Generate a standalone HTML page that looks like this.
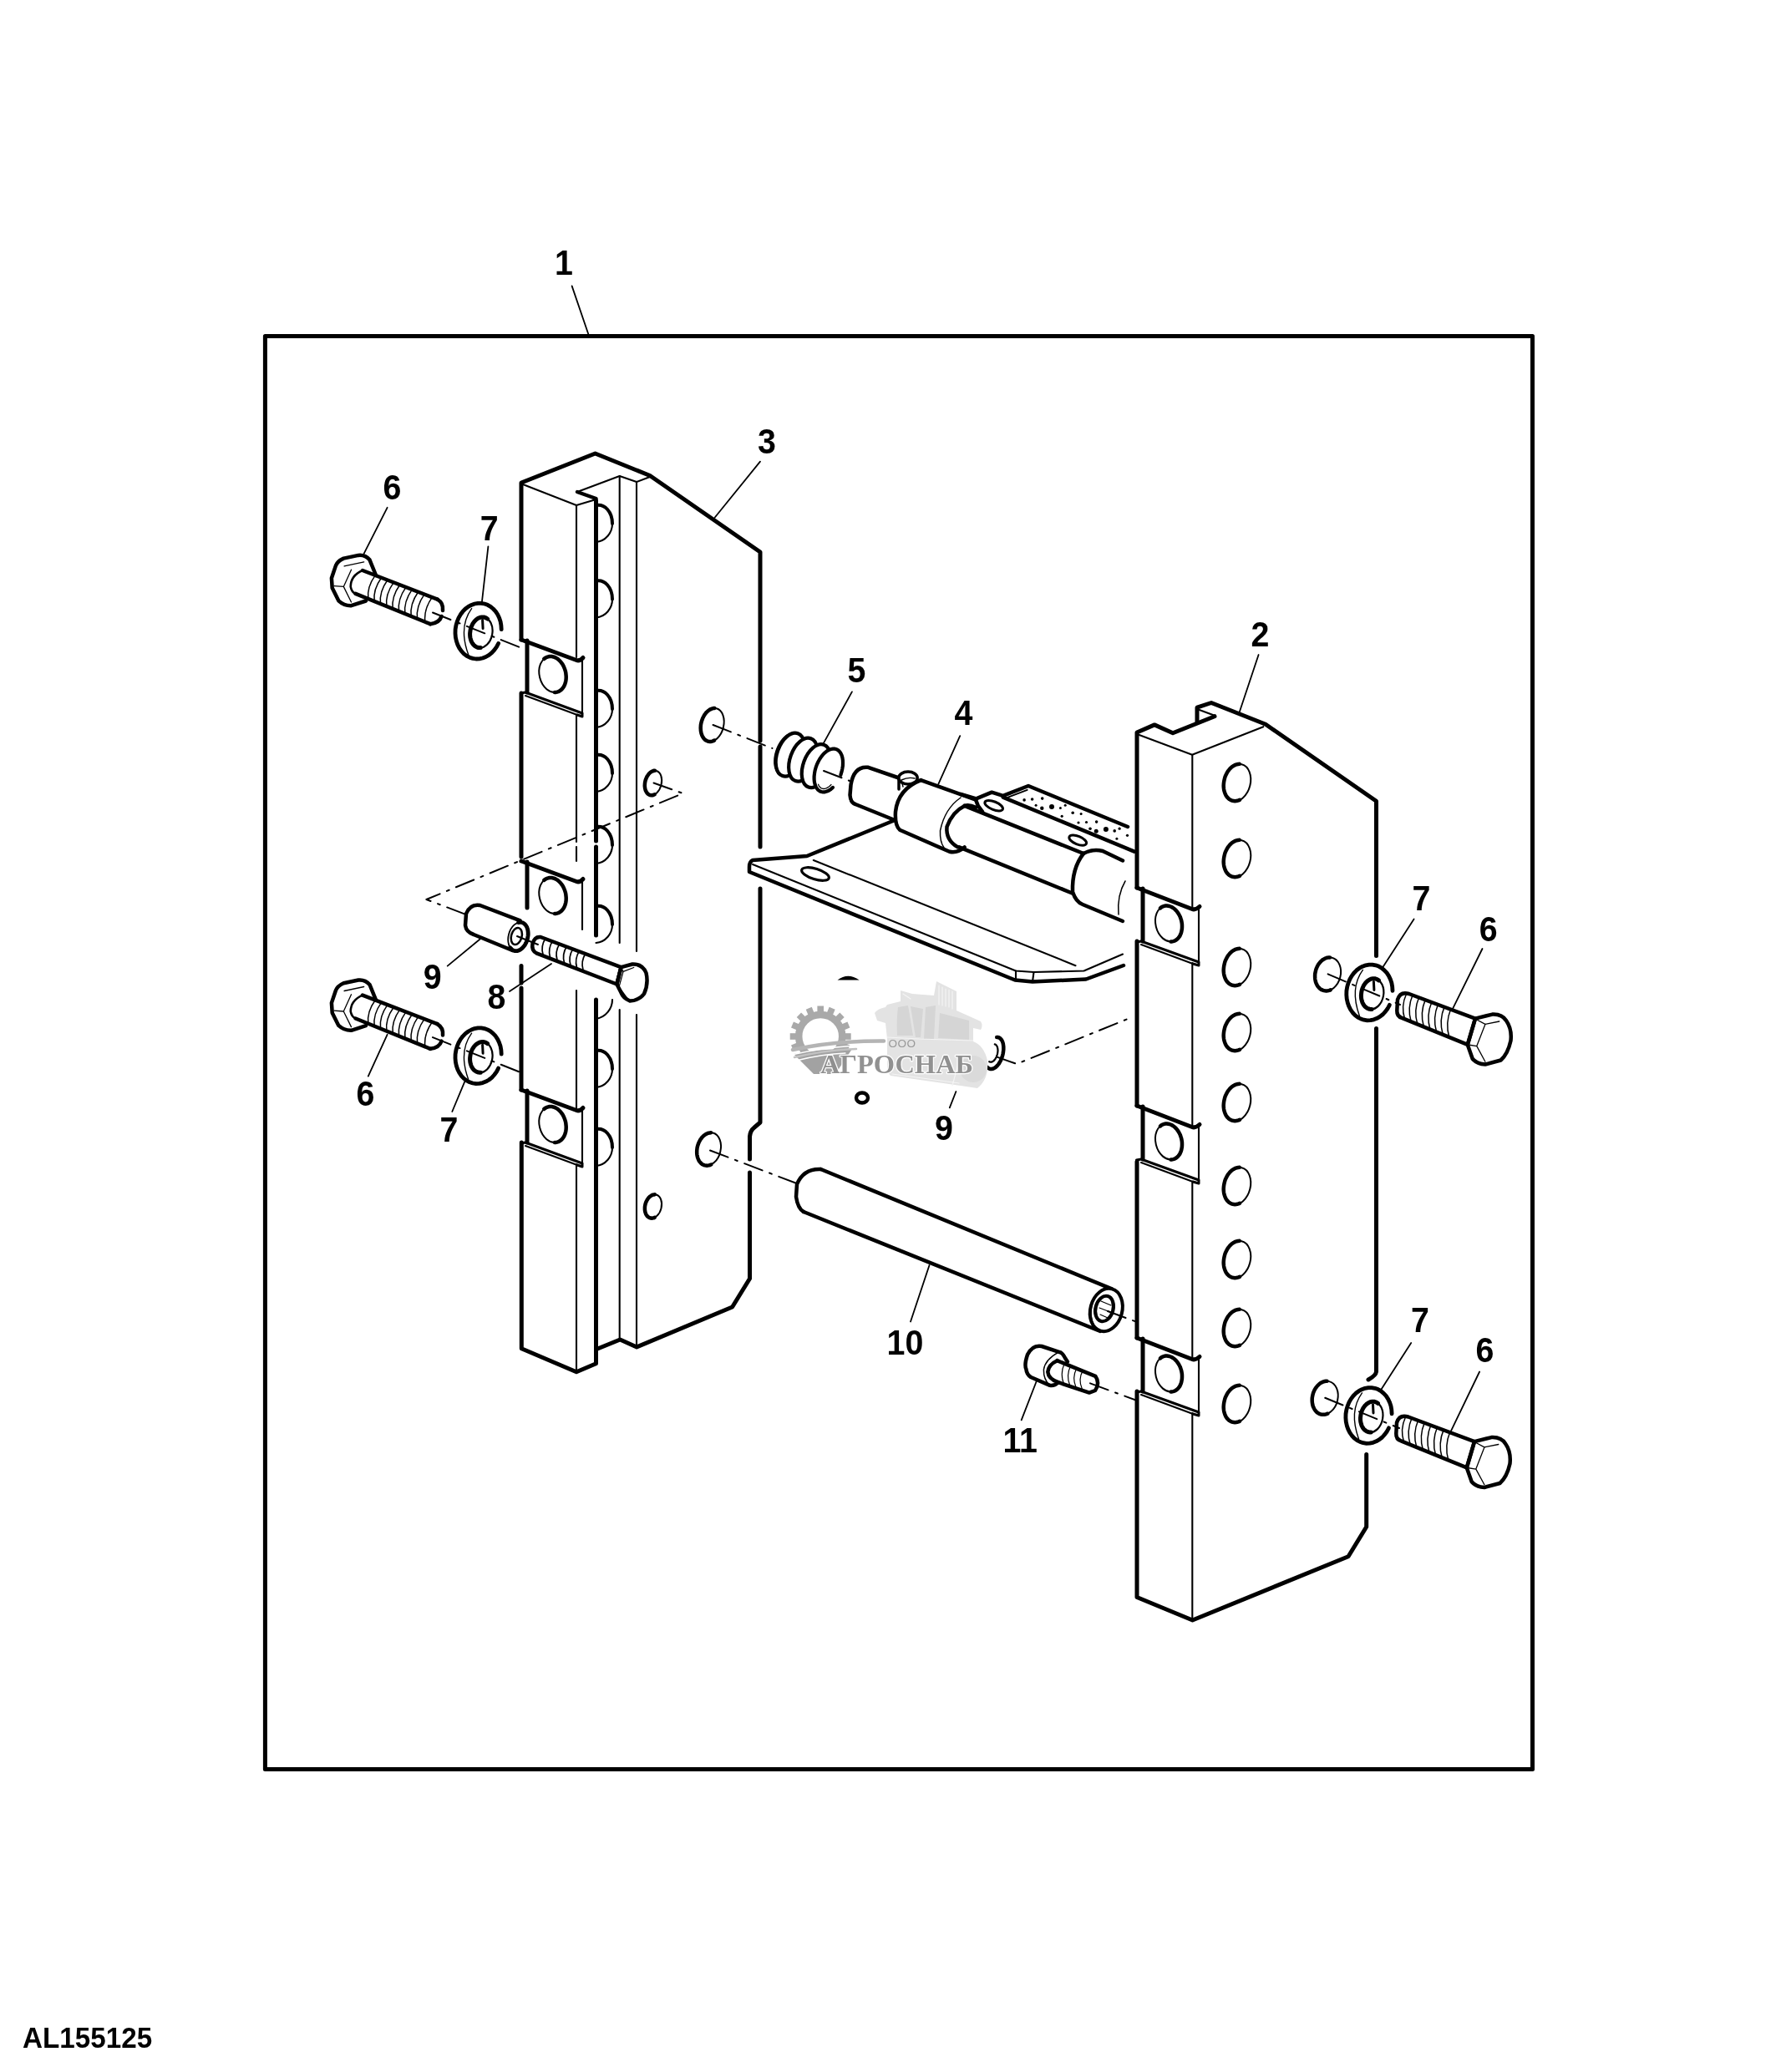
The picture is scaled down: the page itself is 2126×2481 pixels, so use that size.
<!DOCTYPE html><html><head><meta charset="utf-8"><style>html,body{margin:0;padding:0;background:#fff;}svg{display:block;}</style></head><body><svg width="2126" height="2481" viewBox="0 0 2126 2481" fill="none" stroke="#000" stroke-linecap="round" stroke-linejoin="round"><rect x="317.4" y="402.5" width="1517.1" height="1715.9" stroke-width="5"/>
<polyline points="624,766 624,578 712.5,543 778,569.5 910,661 910,887" stroke-width="5" />
<polyline points="910,894 910,1014" stroke-width="5" />
<path d="M910,1064 L910,1344 L903,1350 Q898,1354 897.5,1361 L897.5,1388 M897.5,1404 L897.5,1531 L876.6,1565 L762.2,1613 L742.3,1604 L713.5,1615.7 L713.5,1632.8 L690,1642.7 L624.3,1614.8 L624.3,1368" stroke-width="5" />
<polyline points="626,580 690,605" stroke-width="2.1" />
<polyline points="690,605 713.5,598" stroke-width="2.1" />
<polyline points="691,589 713.5,597 713.5,604" stroke-width="4.5" />
<polyline points="691,589 741.7,570 762,577 778,571" stroke-width="2.1" />
<polyline points="713.5,600 713.5,1007" stroke-width="5" />
<polyline points="713.5,1014 713.5,1120" stroke-width="5" />
<polyline points="713.5,1197 713.5,1615" stroke-width="5" />
<polyline points="741.7,570 741.7,1129" stroke-width="2.1" />
<polyline points="741.7,1209 741.7,1604" stroke-width="2.1" />
<polyline points="762,577 762,1139" stroke-width="2.1" />
<polyline points="762,1215 762,1613" stroke-width="2.1" />
<polyline points="690,605 690,787" stroke-width="2.1" />
<polyline points="690,856 690,1008" stroke-width="2.1" />
<polyline points="690,1014 690,1031" stroke-width="2.1" />
<polyline points="690,1186 690,1329" stroke-width="2.1" />
<polyline points="690,1394 690,1642.7" stroke-width="2.1" />
<polyline points="624,830 624,1026" stroke-width="5" />
<polyline points="624,1156.5 624,1177" stroke-width="5" />
<polyline points="624,1183 624,1305" stroke-width="5" />
<path d="M624,766 L690,790.5 Q694,792 698,787.5" stroke-width="5" />
<ellipse cx="661.5" cy="807.5" rx="15.8" ry="21.8" stroke-width="2" transform="rotate(-14 661.5 807.5)" />
<polyline points="651.3,788.9 652.5,788 653.8,787.3 655.1,786.7 656.5,786.3 657.9,786.1 659.4,786 660.9,786.1 662.4,786.5 663.8,786.9 665.3,787.6 666.7,788.4 668.1,789.4 669.4,790.6 670.7,791.8 671.9,793.3 673,794.8 674,796.4 674.9,798.2 675.6,800 676.3,801.8 676.9,803.8 677.3,805.7 677.5,807.7 677.7,809.7 677.7,811.6 677.6,813.5 677.3,815.4 676.9,817.2 676.4,818.9 675.7,820.5 675,822 674.1,823.4 673.1,824.7 672,825.8 670.9,826.7 669.6,827.5 668.3,828.2 666.9,828.6 665.5,828.9 664,829" stroke-width="4.5" />
<polyline points="631,767 631,829" stroke-width="5" />
<polyline points="697,788 697,855" stroke-width="2.1" />
<polyline points="623.5,830 629,829 697,854 697,858 691,856" stroke-width="3" />
<polyline points="629,833 691,856" stroke-width="2.1" />
<path d="M624,1031 L690,1055.5 Q694,1057 698,1052.5" stroke-width="5" />
<ellipse cx="661.5" cy="1072.5" rx="15.8" ry="21.8" stroke-width="2" transform="rotate(-14 661.5 1072.5)" />
<polyline points="651.3,1053.9 652.5,1053 653.8,1052.3 655.1,1051.7 656.5,1051.3 657.9,1051.1 659.4,1051 660.9,1051.1 662.4,1051.5 663.8,1051.9 665.3,1052.6 666.7,1053.4 668.1,1054.4 669.4,1055.6 670.7,1056.8 671.9,1058.3 673,1059.8 674,1061.4 674.9,1063.2 675.6,1065 676.3,1066.8 676.9,1068.8 677.3,1070.7 677.5,1072.7 677.7,1074.7 677.7,1076.6 677.6,1078.5 677.3,1080.4 676.9,1082.2 676.4,1083.9 675.7,1085.5 675,1087 674.1,1088.4 673.1,1089.7 672,1090.8 670.9,1091.7 669.6,1092.5 668.3,1093.2 666.9,1093.6 665.5,1093.9 664,1094" stroke-width="4.5" />
<polyline points="631,1032 631,1087" stroke-width="5" />
<polyline points="697,1053 697,1113" stroke-width="2.1" />
<path d="M624,1305 L690,1329.5 Q694,1331 698,1326.5" stroke-width="5" />
<ellipse cx="661.5" cy="1346.5" rx="15.8" ry="21.8" stroke-width="2" transform="rotate(-14 661.5 1346.5)" />
<polyline points="651.3,1327.9 652.5,1327 653.8,1326.3 655.1,1325.7 656.5,1325.3 657.9,1325.1 659.4,1325 660.9,1325.1 662.4,1325.5 663.8,1325.9 665.3,1326.6 666.7,1327.4 668.1,1328.4 669.4,1329.6 670.7,1330.8 671.9,1332.3 673,1333.8 674,1335.4 674.9,1337.2 675.6,1339 676.3,1340.8 676.9,1342.8 677.3,1344.7 677.5,1346.7 677.7,1348.7 677.7,1350.6 677.6,1352.5 677.3,1354.4 676.9,1356.2 676.4,1357.9 675.7,1359.5 675,1361 674.1,1362.4 673.1,1363.7 672,1364.8 670.9,1365.7 669.6,1366.5 668.3,1367.2 666.9,1367.6 665.5,1367.9 664,1368" stroke-width="4.5" />
<polyline points="631,1306 631,1368" stroke-width="5" />
<polyline points="697,1327 697,1394" stroke-width="2.1" />
<polyline points="623.5,1369 629,1368 697,1393 697,1397 691,1395" stroke-width="3" />
<polyline points="629,1372 691,1395" stroke-width="2.1" />
<path d="M713.5,605 C724,603 733,613 733,627" stroke-width="4" />
<path d="M733,627 C733,638 725,648 713.5,649" stroke-width="2.1" />
<path d="M713.5,695.5 C724,693.5 733,703.5 733,717.5" stroke-width="4" />
<path d="M733,717.5 C733,728.5 725,738.5 713.5,739.5" stroke-width="2.1" />
<path d="M713.5,827 C724,825 733,835 733,849" stroke-width="4" />
<path d="M733,849 C733,860 725,870 713.5,871" stroke-width="2.1" />
<path d="M713.5,904 C724,902 733,912 733,926" stroke-width="4" />
<path d="M733,926 C733,937 725,947 713.5,948" stroke-width="2.1" />
<path d="M713.5,990 C724,988 733,998 733,1012" stroke-width="4" />
<path d="M733,1012 C733,1023 725,1033 713.5,1034" stroke-width="2.1" />
<path d="M713.5,1085 C724,1083 733,1093 733,1107" stroke-width="4" />
<path d="M733,1107 C733,1118 725,1128 713.5,1129" stroke-width="2.1" />
<path d="M713.5,1258 C724,1256 733,1266 733,1280" stroke-width="4" />
<path d="M733,1280 C733,1291 725,1301 713.5,1302" stroke-width="2.1" />
<path d="M713.5,1352 C724,1350 733,1360 733,1374" stroke-width="4" />
<path d="M733,1374 C733,1385 725,1395 713.5,1396" stroke-width="2.1" />
<path d="M733,1197 C733,1208 725,1218 713.5,1220" stroke-width="2.1" />
<ellipse cx="852.7" cy="868" rx="13.5" ry="20.3" stroke-width="2" transform="rotate(14 852.7 868)" />
<polyline points="855,886.7 853.8,887.2 852.6,887.6 851.3,887.9 850.1,888 848.9,887.9 847.8,887.7 846.7,887.3 845.6,886.8 844.6,886.2 843.6,885.4 842.7,884.5 841.9,883.4 841.2,882.3 840.5,881 840,879.6 839.5,878.2 839.2,876.6 838.9,875 838.8,873.4 838.7,871.7 838.8,869.9 838.9,868.2 839.2,866.5 839.6,864.7 840.1,863 840.7,861.4 841.3,859.7 842.1,858.2 842.9,856.7 843.8,855.3 844.8,854 845.8,852.8 846.9,851.8 848,850.8 849.2,850 850.4,849.3 851.6,848.8 852.8,848.4 854.1,848.1 855.3,848" stroke-width="4.5" />
<ellipse cx="782" cy="937.5" rx="9.8" ry="15" stroke-width="2" transform="rotate(14 782 937.5)" />
<polyline points="783.6,951.3 782.7,951.7 781.8,952 781,952.2 780.1,952.2 779.2,952.2 778.4,952.1 777.6,951.8 776.8,951.4 776,950.9 775.3,950.4 774.7,949.7 774.1,948.9 773.6,948.1 773.1,947.1 772.7,946.1 772.4,945 772.1,943.9 772,942.7 771.8,941.5 771.8,940.3 771.9,939 772,937.7 772.2,936.4 772.5,935.1 772.8,933.9 773.3,932.6 773.8,931.4 774.3,930.3 774.9,929.2 775.6,928.2 776.3,927.2 777,926.3 777.8,925.5 778.7,924.8 779.5,924.2 780.4,923.7 781.3,923.3 782.2,923 783,922.8 783.9,922.8" stroke-width="4.5" />
<ellipse cx="848.6" cy="1376" rx="14" ry="20" stroke-width="2" transform="rotate(14 848.6 1376)" />
<polyline points="851.2,1394.5 850,1395 848.7,1395.4 847.4,1395.6 846.2,1395.7 845,1395.6 843.8,1395.4 842.6,1395 841.5,1394.5 840.4,1393.9 839.4,1393.1 838.5,1392.2 837.6,1391.1 836.8,1390 836.2,1388.7 835.6,1387.3 835.1,1385.9 834.7,1384.4 834.4,1382.8 834.2,1381.1 834.2,1379.5 834.2,1377.8 834.4,1376 834.6,1374.3 835,1372.6 835.5,1370.9 836.1,1369.3 836.7,1367.7 837.5,1366.2 838.3,1364.7 839.3,1363.4 840.2,1362.1 841.3,1360.9 842.4,1359.9 843.6,1359 844.8,1358.2 846,1357.5 847.2,1357 848.5,1356.6 849.8,1356.4 851,1356.3" stroke-width="4.5" />
<ellipse cx="782" cy="1444.5" rx="9.8" ry="14.4" stroke-width="2" transform="rotate(14 782 1444.5)" />
<polyline points="783.7,1457.8 782.9,1458.2 782,1458.4 781.1,1458.6 780.2,1458.7 779.4,1458.6 778.5,1458.5 777.7,1458.2 776.9,1457.8 776.2,1457.4 775.5,1456.8 774.8,1456.2 774.2,1455.4 773.7,1454.6 773.2,1453.7 772.8,1452.7 772.5,1451.7 772.2,1450.6 772,1449.4 771.9,1448.3 771.9,1447.1 771.9,1445.8 772,1444.6 772.2,1443.4 772.5,1442.1 772.8,1440.9 773.2,1439.7 773.7,1438.6 774.3,1437.5 774.9,1436.4 775.5,1435.5 776.2,1434.5 777,1433.7 777.7,1432.9 778.6,1432.3 779.4,1431.7 780.3,1431.2 781.1,1430.8 782,1430.6 782.9,1430.4 783.8,1430.3" stroke-width="4.5" />
<polyline points="1361,1063 1361,877 1382,867.9 1404,877.8 1454,857.7" stroke-width="5" />
<polyline points="1433,865 1433,847.2 1450,841.5 1515,867.3 1647.5,959.2 1647.5,1144.5" stroke-width="5" />
<path d="M1647.5,1231.5 L1647.5,1642.5 Q1647,1647 1638,1652" stroke-width="5" />
<path d="M1635.7,1741.5 L1635.7,1828.3 L1614,1863.8 L1427.5,1940 L1361,1912.5 L1361,1666" stroke-width="5" />
<polyline points="1435.7,850 1453.9,856.8" stroke-width="2.1" />
<polyline points="1363,879.8 1427.1,903.7 1512.3,870.2" stroke-width="2.1" />
<polyline points="1427.3,904 1427.3,1088" stroke-width="2.1" />
<polyline points="1427.3,1153 1427.3,1350" stroke-width="2.1" />
<polyline points="1427.3,1416 1427.3,1628" stroke-width="2.1" />
<polyline points="1427.3,1692 1427.3,1940" stroke-width="2.1" />
<polyline points="1361,1127 1361,1324" stroke-width="5" />
<polyline points="1361,1391 1361,1602" stroke-width="5" />
<path d="M1361,1063 L1427,1088.5 Q1431,1090 1436,1085.5" stroke-width="5" />
<polyline points="1368,1064 1368,1127" stroke-width="5" />
<polyline points="1435,1086 1435,1153" stroke-width="2.1" />
<polyline points="1360.5,1128 1366,1127 1435,1152 1435,1156 1428,1154" stroke-width="3" />
<polyline points="1366,1131 1428,1154" stroke-width="2.1" />
<ellipse cx="1399" cy="1106" rx="15.6" ry="21.8" stroke-width="2" transform="rotate(-14 1399 1106)" />
<polyline points="1388.9,1087.4 1390,1086.5 1391.3,1085.8 1392.6,1085.2 1394,1084.8 1395.4,1084.6 1396.8,1084.5 1398.3,1084.7 1399.8,1085 1401.2,1085.5 1402.7,1086.1 1404.1,1087 1405.5,1088 1406.8,1089.1 1408,1090.4 1409.2,1091.8 1410.3,1093.3 1411.3,1095 1412.2,1096.7 1413,1098.5 1413.6,1100.4 1414.2,1102.3 1414.6,1104.3 1414.9,1106.2 1415,1108.2 1415,1110.1 1414.9,1112.1 1414.6,1113.9 1414.3,1115.7 1413.8,1117.4 1413.1,1119 1412.4,1120.6 1411.5,1121.9 1410.5,1123.2 1409.5,1124.3 1408.3,1125.3 1407.1,1126 1405.8,1126.7 1404.4,1127.1 1403,1127.4 1401.6,1127.5" stroke-width="4.5" />
<path d="M1361,1324 L1427,1349.5 Q1431,1351 1436,1346.5" stroke-width="5" />
<polyline points="1368,1325 1368,1388" stroke-width="5" />
<polyline points="1435,1347 1435,1414" stroke-width="2.1" />
<polyline points="1360.5,1389 1366,1388 1435,1413 1435,1417 1428,1415" stroke-width="3" />
<polyline points="1366,1392 1428,1415" stroke-width="2.1" />
<ellipse cx="1399" cy="1367" rx="15.6" ry="21.8" stroke-width="2" transform="rotate(-14 1399 1367)" />
<polyline points="1388.9,1348.4 1390,1347.5 1391.3,1346.8 1392.6,1346.2 1394,1345.8 1395.4,1345.6 1396.8,1345.5 1398.3,1345.7 1399.8,1346 1401.2,1346.5 1402.7,1347.1 1404.1,1348 1405.5,1349 1406.8,1350.1 1408,1351.4 1409.2,1352.8 1410.3,1354.3 1411.3,1356 1412.2,1357.7 1413,1359.5 1413.6,1361.4 1414.2,1363.3 1414.6,1365.3 1414.9,1367.2 1415,1369.2 1415,1371.1 1414.9,1373.1 1414.6,1374.9 1414.3,1376.7 1413.8,1378.4 1413.1,1380 1412.4,1381.6 1411.5,1382.9 1410.5,1384.2 1409.5,1385.3 1408.3,1386.3 1407.1,1387 1405.8,1387.7 1404.4,1388.1 1403,1388.4 1401.6,1388.5" stroke-width="4.5" />
<path d="M1361,1602 L1427,1627.5 Q1431,1629 1436,1624.5" stroke-width="5" />
<polyline points="1368,1603 1368,1666" stroke-width="5" />
<polyline points="1435,1625 1435,1692" stroke-width="2.1" />
<polyline points="1360.5,1667 1366,1666 1435,1691 1435,1695 1428,1693" stroke-width="3" />
<polyline points="1366,1670 1428,1693" stroke-width="2.1" />
<ellipse cx="1399" cy="1645" rx="15.6" ry="21.8" stroke-width="2" transform="rotate(-14 1399 1645)" />
<polyline points="1388.9,1626.4 1390,1625.5 1391.3,1624.8 1392.6,1624.2 1394,1623.8 1395.4,1623.6 1396.8,1623.5 1398.3,1623.7 1399.8,1624 1401.2,1624.5 1402.7,1625.1 1404.1,1626 1405.5,1627 1406.8,1628.1 1408,1629.4 1409.2,1630.8 1410.3,1632.3 1411.3,1634 1412.2,1635.7 1413,1637.5 1413.6,1639.4 1414.2,1641.3 1414.6,1643.3 1414.9,1645.2 1415,1647.2 1415,1649.1 1414.9,1651.1 1414.6,1652.9 1414.3,1654.7 1413.8,1656.4 1413.1,1658 1412.4,1659.6 1411.5,1660.9 1410.5,1662.2 1409.5,1663.3 1408.3,1664.3 1407.1,1665 1405.8,1665.7 1404.4,1666.1 1403,1666.4 1401.6,1666.5" stroke-width="4.5" />
<ellipse cx="1481" cy="937" rx="15.8" ry="22.5" stroke-width="2" transform="rotate(14 1481 937)" />
<polyline points="1484,957.8 1482.5,958.4 1481.1,958.8 1479.7,959.1 1478.3,959.2 1476.9,959.1 1475.6,958.8 1474.2,958.4 1473,957.8 1471.8,957.1 1470.6,956.2 1469.6,955.2 1468.6,954 1467.7,952.7 1467,951.3 1466.3,949.7 1465.8,948.1 1465.3,946.4 1465,944.6 1464.8,942.8 1464.7,940.9 1464.8,939 1465,937 1465.3,935.1 1465.7,933.2 1466.2,931.3 1466.8,929.4 1467.6,927.7 1468.5,925.9 1469.4,924.3 1470.4,922.8 1471.6,921.3 1472.8,920 1474,918.9 1475.3,917.8 1476.7,916.9 1478,916.2 1479.5,915.6 1480.9,915.2 1482.3,914.9 1483.7,914.8" stroke-width="4.5" />
<ellipse cx="1481" cy="1028" rx="15.8" ry="22.5" stroke-width="2" transform="rotate(14 1481 1028)" />
<polyline points="1484,1048.8 1482.5,1049.4 1481.1,1049.8 1479.7,1050.1 1478.3,1050.2 1476.9,1050.1 1475.6,1049.8 1474.2,1049.4 1473,1048.8 1471.8,1048.1 1470.6,1047.2 1469.6,1046.2 1468.6,1045 1467.7,1043.7 1467,1042.3 1466.3,1040.7 1465.8,1039.1 1465.3,1037.4 1465,1035.6 1464.8,1033.8 1464.7,1031.9 1464.8,1030 1465,1028 1465.3,1026.1 1465.7,1024.2 1466.2,1022.3 1466.8,1020.4 1467.6,1018.7 1468.5,1016.9 1469.4,1015.3 1470.4,1013.8 1471.6,1012.3 1472.8,1011 1474,1009.9 1475.3,1008.8 1476.7,1007.9 1478,1007.2 1479.5,1006.6 1480.9,1006.2 1482.3,1005.9 1483.7,1005.8" stroke-width="4.5" />
<ellipse cx="1481" cy="1158" rx="15.8" ry="22.5" stroke-width="2" transform="rotate(14 1481 1158)" />
<polyline points="1484,1178.8 1482.5,1179.4 1481.1,1179.8 1479.7,1180.1 1478.3,1180.2 1476.9,1180.1 1475.6,1179.8 1474.2,1179.4 1473,1178.8 1471.8,1178.1 1470.6,1177.2 1469.6,1176.2 1468.6,1175 1467.7,1173.7 1467,1172.3 1466.3,1170.7 1465.8,1169.1 1465.3,1167.4 1465,1165.6 1464.8,1163.8 1464.7,1161.9 1464.8,1160 1465,1158 1465.3,1156.1 1465.7,1154.2 1466.2,1152.3 1466.8,1150.4 1467.6,1148.7 1468.5,1146.9 1469.4,1145.3 1470.4,1143.8 1471.6,1142.3 1472.8,1141 1474,1139.9 1475.3,1138.8 1476.7,1137.9 1478,1137.2 1479.5,1136.6 1480.9,1136.2 1482.3,1135.9 1483.7,1135.8" stroke-width="4.5" />
<ellipse cx="1481" cy="1236" rx="15.8" ry="22.5" stroke-width="2" transform="rotate(14 1481 1236)" />
<polyline points="1484,1256.8 1482.5,1257.4 1481.1,1257.8 1479.7,1258.1 1478.3,1258.2 1476.9,1258.1 1475.6,1257.8 1474.2,1257.4 1473,1256.8 1471.8,1256.1 1470.6,1255.2 1469.6,1254.2 1468.6,1253 1467.7,1251.7 1467,1250.3 1466.3,1248.7 1465.8,1247.1 1465.3,1245.4 1465,1243.6 1464.8,1241.8 1464.7,1239.9 1464.8,1238 1465,1236 1465.3,1234.1 1465.7,1232.2 1466.2,1230.3 1466.8,1228.4 1467.6,1226.7 1468.5,1224.9 1469.4,1223.3 1470.4,1221.8 1471.6,1220.3 1472.8,1219 1474,1217.9 1475.3,1216.8 1476.7,1215.9 1478,1215.2 1479.5,1214.6 1480.9,1214.2 1482.3,1213.9 1483.7,1213.8" stroke-width="4.5" />
<ellipse cx="1481" cy="1320" rx="15.8" ry="22.5" stroke-width="2" transform="rotate(14 1481 1320)" />
<polyline points="1484,1340.8 1482.5,1341.4 1481.1,1341.8 1479.7,1342.1 1478.3,1342.2 1476.9,1342.1 1475.6,1341.8 1474.2,1341.4 1473,1340.8 1471.8,1340.1 1470.6,1339.2 1469.6,1338.2 1468.6,1337 1467.7,1335.7 1467,1334.3 1466.3,1332.7 1465.8,1331.1 1465.3,1329.4 1465,1327.6 1464.8,1325.8 1464.7,1323.9 1464.8,1322 1465,1320 1465.3,1318.1 1465.7,1316.2 1466.2,1314.3 1466.8,1312.4 1467.6,1310.7 1468.5,1308.9 1469.4,1307.3 1470.4,1305.8 1471.6,1304.3 1472.8,1303 1474,1301.9 1475.3,1300.8 1476.7,1299.9 1478,1299.2 1479.5,1298.6 1480.9,1298.2 1482.3,1297.9 1483.7,1297.8" stroke-width="4.5" />
<ellipse cx="1481" cy="1420" rx="15.8" ry="22.5" stroke-width="2" transform="rotate(14 1481 1420)" />
<polyline points="1484,1440.8 1482.5,1441.4 1481.1,1441.8 1479.7,1442.1 1478.3,1442.2 1476.9,1442.1 1475.6,1441.8 1474.2,1441.4 1473,1440.8 1471.8,1440.1 1470.6,1439.2 1469.6,1438.2 1468.6,1437 1467.7,1435.7 1467,1434.3 1466.3,1432.7 1465.8,1431.1 1465.3,1429.4 1465,1427.6 1464.8,1425.8 1464.7,1423.9 1464.8,1422 1465,1420 1465.3,1418.1 1465.7,1416.2 1466.2,1414.3 1466.8,1412.4 1467.6,1410.7 1468.5,1408.9 1469.4,1407.3 1470.4,1405.8 1471.6,1404.3 1472.8,1403 1474,1401.9 1475.3,1400.8 1476.7,1399.9 1478,1399.2 1479.5,1398.6 1480.9,1398.2 1482.3,1397.9 1483.7,1397.8" stroke-width="4.5" />
<ellipse cx="1481" cy="1508" rx="15.8" ry="22.5" stroke-width="2" transform="rotate(14 1481 1508)" />
<polyline points="1484,1528.8 1482.5,1529.4 1481.1,1529.8 1479.7,1530.1 1478.3,1530.2 1476.9,1530.1 1475.6,1529.8 1474.2,1529.4 1473,1528.8 1471.8,1528.1 1470.6,1527.2 1469.6,1526.2 1468.6,1525 1467.7,1523.7 1467,1522.3 1466.3,1520.7 1465.8,1519.1 1465.3,1517.4 1465,1515.6 1464.8,1513.8 1464.7,1511.9 1464.8,1510 1465,1508 1465.3,1506.1 1465.7,1504.2 1466.2,1502.3 1466.8,1500.4 1467.6,1498.7 1468.5,1496.9 1469.4,1495.3 1470.4,1493.8 1471.6,1492.3 1472.8,1491 1474,1489.9 1475.3,1488.8 1476.7,1487.9 1478,1487.2 1479.5,1486.6 1480.9,1486.2 1482.3,1485.9 1483.7,1485.8" stroke-width="4.5" />
<ellipse cx="1481" cy="1590" rx="15.8" ry="22.5" stroke-width="2" transform="rotate(14 1481 1590)" />
<polyline points="1484,1610.8 1482.5,1611.4 1481.1,1611.8 1479.7,1612.1 1478.3,1612.2 1476.9,1612.1 1475.6,1611.8 1474.2,1611.4 1473,1610.8 1471.8,1610.1 1470.6,1609.2 1469.6,1608.2 1468.6,1607 1467.7,1605.7 1467,1604.3 1466.3,1602.7 1465.8,1601.1 1465.3,1599.4 1465,1597.6 1464.8,1595.8 1464.7,1593.9 1464.8,1592 1465,1590 1465.3,1588.1 1465.7,1586.2 1466.2,1584.3 1466.8,1582.4 1467.6,1580.7 1468.5,1578.9 1469.4,1577.3 1470.4,1575.8 1471.6,1574.3 1472.8,1573 1474,1571.9 1475.3,1570.8 1476.7,1569.9 1478,1569.2 1479.5,1568.6 1480.9,1568.2 1482.3,1567.9 1483.7,1567.8" stroke-width="4.5" />
<ellipse cx="1481" cy="1681" rx="15.8" ry="22.5" stroke-width="2" transform="rotate(14 1481 1681)" />
<polyline points="1484,1701.8 1482.5,1702.4 1481.1,1702.8 1479.7,1703.1 1478.3,1703.2 1476.9,1703.1 1475.6,1702.8 1474.2,1702.4 1473,1701.8 1471.8,1701.1 1470.6,1700.2 1469.6,1699.2 1468.6,1698 1467.7,1696.7 1467,1695.3 1466.3,1693.7 1465.8,1692.1 1465.3,1690.4 1465,1688.6 1464.8,1686.8 1464.7,1684.9 1464.8,1683 1465,1681 1465.3,1679.1 1465.7,1677.2 1466.2,1675.3 1466.8,1673.4 1467.6,1671.7 1468.5,1669.9 1469.4,1668.3 1470.4,1666.8 1471.6,1665.3 1472.8,1664 1474,1662.9 1475.3,1661.8 1476.7,1660.9 1478,1660.2 1479.5,1659.6 1480.9,1659.2 1482.3,1658.9 1483.7,1658.8" stroke-width="4.5" />
<path d="M1070,982.5 L966,1025 L901,1030 Q897,1032 897,1038 L897,1044 L1215,1173.5 L1236,1175.5 L1300,1172.5 L1345,1156" stroke-width="4.5" />
<path d="M901,1035 L1216,1162.5 L1237.5,1164 L1297.5,1162.5 L1344,1142.5" stroke-width="2.1" />
<polyline points="1216,1162.5 1216,1173.5" stroke-width="2.1" />
<polyline points="1237.5,1164 1236,1175.5" stroke-width="2.1" />
<polyline points="973.8,1030 1287.5,1156.2" stroke-width="2.1" />
<ellipse cx="976" cy="1046.5" rx="17" ry="6.3" stroke-width="3.2" transform="rotate(17 976 1046.5)" />
<path d="M1150,951 L1168.6,956.3 L1187.2,948.7 L1200.7,952.9 L1231,941 L1350,990" stroke-width="4.5" />
<path d="M1200.7,954.6 L1357.8,1019.6" stroke-width="4.5" />
<ellipse cx="1189.7" cy="964.7" rx="11.5" ry="4.8" stroke-width="3" transform="rotate(22 1189.7 964.7)" />
<ellipse cx="1290.2" cy="1006.1" rx="11" ry="4.8" stroke-width="3" transform="rotate(22 1290.2 1006.1)" />
<circle cx="1226.1" cy="957.9" r="1.8" fill="#000" stroke="none"/>
<circle cx="1235.6" cy="957" r="1.8" fill="#000" stroke="none"/>
<circle cx="1247.7" cy="956.1" r="1.8" fill="#000" stroke="none"/>
<circle cx="1240.1" cy="964.2" r="1.5" fill="#000" stroke="none"/>
<circle cx="1247.3" cy="967.8" r="2.2" fill="#000" stroke="none"/>
<circle cx="1259" cy="966" r="3" fill="#000" stroke="none"/>
<circle cx="1269.4" cy="967.4" r="1.5" fill="#000" stroke="none"/>
<circle cx="1275.2" cy="964.2" r="1.5" fill="#000" stroke="none"/>
<circle cx="1284.2" cy="973.2" r="1.8" fill="#000" stroke="none"/>
<circle cx="1294.1" cy="974.6" r="1.5" fill="#000" stroke="none"/>
<circle cx="1271.2" cy="977.3" r="1.6" fill="#000" stroke="none"/>
<circle cx="1291" cy="985" r="1.6" fill="#000" stroke="none"/>
<circle cx="1300.5" cy="984.5" r="1.6" fill="#000" stroke="none"/>
<circle cx="1312.6" cy="984.1" r="1.8" fill="#000" stroke="none"/>
<circle cx="1305" cy="992.2" r="1.8" fill="#000" stroke="none"/>
<circle cx="1312.2" cy="995.3" r="2.5" fill="#000" stroke="none"/>
<circle cx="1323.9" cy="993.1" r="3" fill="#000" stroke="none"/>
<circle cx="1334.2" cy="994.9" r="1.8" fill="#000" stroke="none"/>
<circle cx="1340.1" cy="992.2" r="1.6" fill="#000" stroke="none"/>
<circle cx="1349.5" cy="1000.3" r="1.6" fill="#000" stroke="none"/>
<circle cx="1336.9" cy="1004.3" r="1.5" fill="#000" stroke="none"/>
<path d="M1205.4,955.2 L1229.7,945.8" stroke-width="1.8" />
<path d="M1076,931.5 L1039.3,918.8 Q1022,917 1018.5,940 L1017.5,952 Q1018,961 1024,963 L1071,982" stroke-width="4.5" />
<path d="M1076,932 L1076,945" stroke-width="3.5" />
<ellipse cx="1087" cy="931.5" rx="11.2" ry="7.5" stroke-width="3.5" fill="#fff"/>
<path d="M1079,934 Q1087,930 1095,932 M1079,935 L1081,942" stroke-width="1.4" />
<path d="M1102.3,934.2 L1150,954 Q1130,970 1125,995 Q1126,1012 1136.6,1019.8 L1077.1,993.7 Q1071,988 1072,972 Q1075,945 1102.3,934.2 Z" stroke-width="0" fill="#fff" stroke="none"/>
<path d="M1102.3,934.2 L1168.1,957.7" stroke-width="4.5" />
<path d="M1102.3,934.2 Q1075,945 1072,972 Q1071,988 1077.1,993.7 L1136.6,1019.8 Q1146,1022 1154.6,1014.4" stroke-width="4.5" />
<path d="M1150.1,955 Q1131,968 1125.5,994.6 Q1125,1008 1130,1015" stroke-width="1.5" />
<path d="M1168.1,966.7 Q1160,963 1154.6,964.9 Q1140,972 1133.5,990 Q1132,1006 1146.5,1014.4" stroke-width="4.5" />
<path d="M1154.6,964.9 L1297,1022" stroke-width="4.5" />
<path d="M1148.3,1014.4 L1283.4,1069.5" stroke-width="4.5" />
<path d="M1168.1,957.7 L1170.8,964.9 L1176.2,972.1" stroke-width="4.5" />
<path d="M1297,1022 Q1308,1016 1320,1019 L1344,1030.5" stroke-width="4.5" />
<path d="M1297,1022 Q1283,1040 1284,1068 Q1288,1080 1296,1083 L1344,1103" stroke-width="4.5" />
<path d="M1347,1055 Q1337,1072 1339,1095" stroke-width="1.5" />
<polyline points="931.3,926.3 930.6,925.3 929.9,924.3 929.3,923.2 928.8,922.1 928.3,920.8 927.9,919.5 927.5,918.2 927.3,916.8 927.1,915.3 926.9,913.8 926.9,912.2 926.9,910.7 927,909.1 927.1,907.4 927.3,905.8 927.6,904.2 928,902.5 928.4,900.9 928.9,899.2 929.5,897.6 930.1,896 930.7,894.5 931.5,892.9 932.3,891.4 933.1,890 934,888.6 934.9,887.2 935.9,886 936.9,884.7 937.9,883.6 939,882.5 940.1,881.5 941.2,880.6 942.3,879.8 943.5,879.1 944.6,878.4 945.8,877.9 947,877.4 948.1,877.1 949.3,876.8" stroke-width="1.4" />
<ellipse cx="945.9" cy="903.6" rx="15.5" ry="27" stroke-width="4.2" transform="rotate(20 945.9 903.6)" fill="#fff"/>
<ellipse cx="961.4" cy="909.6" rx="15.5" ry="27" stroke-width="4.2" transform="rotate(20 961.4 909.6)" fill="#fff"/>
<ellipse cx="977" cy="917.1" rx="15.5" ry="27" stroke-width="4.2" transform="rotate(20 977 917.1)" fill="#fff"/>
<polyline points="1006.4,927.8 1007.5,924.2 1008.3,920.6 1008.9,917 1009,913.6 1008.9,910.3 1008.4,907.2 1007.6,904.4 1006.5,902 1005.1,900 1003.4,898.4 1001.5,897.3 999.5,896.7 997.2,896.6 994.9,897 992.5,897.9 990.1,899.2 987.7,901.1 985.4,903.3 983.3,905.9 981.3,908.8 979.5,912 977.9,915.4 976.6,919 975.6,922.6 975,926.2 974.6,929.7 974.6,933.1 974.9,936.3 975.6,939.2 976.5,941.8 977.8,944 979.3,945.8 981.1,947.2 983.1,948 985.2,948.4 987.5,948.3 989.9,947.6 992.3,946.5 994.7,944.9 997,942.9" stroke-width="4.2" fill="#fff"/>
<polyline points="995,939.4 994.6,939.9 994.1,940.3 993.6,940.8 993.2,941.2 992.7,941.6 992.3,942 991.8,942.3 991.3,942.6 990.9,942.9 990.4,943.2 989.9,943.4 989.5,943.6 989,943.8 988.6,944 988.1,944.2 987.7,944.3 987.2,944.4 986.8,944.4 986.4,944.5 985.9,944.5 985.5,944.4 985.1,944.4 984.7,944.3 984.3,944.2 983.9,944.1 983.6,944 983.2,943.8 982.8,943.6 982.5,943.4 982.2,943.1 981.9,942.8 981.6,942.5 981.3,942.2 981,941.8 980.7,941.5 980.5,941.1 980.2,940.6 980,940.2 979.8,939.7 979.6,939.3" stroke-width="1.3" />
<path d="M982.5,1400 L1331,1543.4" stroke-width="4.5" />
<path d="M962,1451 L1317,1594" stroke-width="4.5" />
<path d="M982.5,1400 Q962,1399 954,1418 L953,1433 Q955,1447 962,1451" stroke-width="4.5" />
<ellipse cx="1324.3" cy="1568.5" rx="19" ry="26" stroke-width="4" transform="rotate(15 1324.3 1568.5)" fill="#fff"/>
<path d="M1318,1545 Q1305,1556 1306,1575 Q1308,1590 1317,1594" stroke-width="1.5" />
<ellipse cx="1322" cy="1567" rx="10.5" ry="15.5" stroke-width="4.2" transform="rotate(15 1322 1567)" fill="#fff"/>
<path d="M1318,1558 L1330,1563 M1316,1566 L1329,1571 M1317,1574 L1326,1578" stroke-width="1.2" />
<path d="M1277.9,1630.4 L1275.4,1626.7 Q1272,1620 1269.2,1619.3 L1247,1612 Q1236,1610 1230,1622 Q1226,1634 1228.3,1639.1 Q1229,1646 1234,1649 L1256.8,1658.9 Q1262,1660 1266.7,1655.2" stroke-width="4.5" fill="#fff"/>
<path d="M1266.7,1619.3 Q1251,1628 1249.4,1640 Q1249,1652 1256.8,1658.9" stroke-width="1.5" />
<path d="M1265.5,1629.2 L1311.3,1647.8 Q1317,1656 1311,1665 L1303.9,1667.6 L1266.7,1655.2" stroke-width="4.5" fill="#fff"/>
<path d="M1265.5,1629.2 Q1255,1634 1254.3,1642.8 Q1255,1651 1266.7,1655.2" stroke-width="4.5" />
<path d="M1274.5,1632.04 Q1268.5,1644.57 1273.5,1657.1" stroke-width="1.2" />
<path d="M1281.8,1635.01 Q1275.8,1647.04 1280.8,1659.07" stroke-width="1.2" />
<path d="M1289,1637.93 Q1283,1649.48 1288,1661.02" stroke-width="1.2" />
<path d="M1296.3,1640.9 Q1290.3,1651.95 1295.3,1663" stroke-width="1.2" />
<path d="M622.7,1102.3 L574.6,1084 Q563,1082 558,1094 L557,1108 Q558,1116 567,1119 L613.4,1138" stroke-width="4.5" fill="#fff"/>
<ellipse cx="620.2" cy="1121.5" rx="11.5" ry="17.5" stroke-width="1.8" transform="rotate(15 620.2 1121.5)" fill="#fff"/>
<polyline points="620.7,1104.6 621.9,1104.4 623,1104.3 624.2,1104.5 625.3,1104.8 626.4,1105.2 627.4,1105.9 628.3,1106.7 629.1,1107.6 629.9,1108.7 630.6,1109.9 631.1,1111.2 631.6,1112.7 631.9,1114.2 632.1,1115.8 632.2,1117.4 632.2,1119.1 632,1120.8 631.7,1122.5 631.4,1124.3 630.9,1125.9 630.3,1127.6 629.6,1129.2 628.8,1130.7 627.9,1132.1 626.9,1133.4 625.9,1134.5 624.8,1135.6 623.7,1136.5 622.5,1137.3 621.3,1137.9 620.1,1138.3 618.9,1138.6 617.7,1138.7 616.6,1138.6 615.4,1138.3 614.4,1137.9 613.3,1137.3 612.4,1136.6 611.5,1135.7 610.7,1134.7" stroke-width="4.8" />
<ellipse cx="618.3" cy="1121" rx="6.3" ry="10.2" stroke-width="2.5" transform="rotate(15 618.3 1121)" />
<polyline points="1193.2,1242 1194.2,1242 1195.1,1242.2 1196,1242.5 1196.9,1243 1197.7,1243.7 1198.4,1244.5 1199.1,1245.4 1199.7,1246.5 1200.2,1247.7 1200.6,1248.9 1200.9,1250.3 1201.1,1251.8 1201.3,1253.4 1201.3,1255 1201.3,1256.7 1201.1,1258.4 1200.9,1260.2 1200.6,1261.9 1200.2,1263.6 1199.7,1265.3 1199.1,1267 1198.4,1268.7 1197.7,1270.2 1196.9,1271.7 1196.1,1273.1 1195.2,1274.4 1194.2,1275.6 1193.2,1276.6 1192.2,1277.6 1191.2,1278.3 1190.2,1279 1189.1,1279.5 1188.1,1279.8 1187.1,1280 1186.1,1280 1185.1,1279.9 1184.2,1279.6 1183.3,1279.1 1182.5,1278.5 1181.8,1277.8" stroke-width="4.5" />
<polyline points="1190.8,1250.4 1191.3,1250.5 1191.8,1250.8 1192.2,1251.1 1192.6,1251.5 1192.9,1251.9 1193.3,1252.4 1193.6,1253 1193.8,1253.6 1194,1254.3 1194.2,1255 1194.3,1255.7 1194.4,1256.5 1194.5,1257.3 1194.5,1258.2 1194.4,1259.1 1194.3,1259.9 1194.2,1260.8 1194,1261.7 1193.8,1262.6 1193.5,1263.5 1193.2,1264.3 1192.9,1265.2 1192.5,1266 1192.1,1266.7 1191.7,1267.5 1191.3,1268.2 1190.8,1268.8 1190.3,1269.4 1189.8,1269.9 1189.3,1270.4 1188.7,1270.8 1188.2,1271.1 1187.7,1271.4 1187.1,1271.6 1186.6,1271.7 1186.1,1271.7 1185.6,1271.7 1185.1,1271.6 1184.6,1271.4 1184.2,1271.2" stroke-width="2.2" />
<path d="M647.2,1122 L743.5,1158.2 L738.4,1178.5 L642.2,1141.4 Q636,1138 637.5,1130 Q640,1121 647.2,1122 Z" stroke-width="4.5" fill="#fff"/>
<path d="M653,1123.43 Q647,1133.15 650,1142.86" stroke-width="1.7" />
<path d="M661.5,1126.62 Q655.5,1136.38 658.5,1146.14" stroke-width="1.7" />
<path d="M670,1129.82 Q664,1139.62 667,1149.41" stroke-width="1.7" />
<path d="M678.5,1133.01 Q672.5,1142.85 675.5,1152.69" stroke-width="1.7" />
<path d="M686,1135.83 Q680,1145.71 683,1155.58" stroke-width="1.7" />
<path d="M693.5,1138.65 Q687.5,1148.56 690.5,1158.47" stroke-width="1.7" />
<path d="M701,1141.47 Q695,1151.41 698,1161.36" stroke-width="1.7" />
<path d="M743.5,1158.2 L757,1154.5 Q769,1154 773.5,1165 Q776.5,1178 771,1190 Q765,1198 754,1198.5 Q746,1195 743.5,1188.6 L738.4,1178.5 Z" stroke-width="4.5" fill="#fff"/>
<path d="M743.5,1158.2 L738.4,1178.5" stroke-width="4.5" />
<path d="M743.5,1159 L746,1163.3 L758.7,1158.5 M746,1163.3 L741,1181.9 L739,1179 M741,1181.9 L752,1197" stroke-width="1.3" />
<path d="M450.1,689 L442.5,670.3 Q437,664 429,664.9 L411.3,668.6 Q404,672 402,677.1 L396.9,692.3 L397.7,704.1 L405.3,719.3 Q412,725.5 420.5,725.2 L438,719.5" stroke-width="4.5" fill="#fff"/>
<path d="M412.1,677.9 L435.7,672.9 M420.5,682.2 L411.3,702.4 L400,701.6 M411.3,702.4 L420.5,721" stroke-width="1.3" />
<path d="M434,683 L523.6,717.6 M425.6,710.9 L515.1,747.2" stroke-width="4.5" />
<path d="M434,683 Q420,689 419.7,702.4 Q421,709 425.6,710.9" stroke-width="2.6" />
<path d="M523.6,717.6 Q531,722 530,731" stroke-width="4.5" />
<path d="M528.5,738 Q526,746 515.1,747.2" stroke-width="4.5" />
<path d="M449.232,688.882 Q439.024,702.976 440.815,717.071" stroke-width="1.5" />
<path d="M456.579,691.719 Q446.367,705.883 448.154,720.048" stroke-width="1.5" />
<path d="M463.926,694.556 Q453.71,708.79 455.493,723.024" stroke-width="1.5" />
<path d="M471.274,697.394 Q461.053,711.697 462.832,726.001" stroke-width="1.5" />
<path d="M478.621,700.231 Q468.396,714.604 470.171,728.977" stroke-width="1.5" />
<path d="M485.968,703.068 Q475.739,717.511 477.51,731.954" stroke-width="1.5" />
<path d="M493.315,705.905 Q483.082,720.418 484.849,734.931" stroke-width="1.5" />
<path d="M500.662,708.742 Q490.425,723.325 492.188,737.907" stroke-width="1.5" />
<path d="M508.01,711.58 Q497.768,726.232 499.527,740.884" stroke-width="1.5" />
<path d="M517.328,715.178 Q507.082,729.918 508.835,744.659" stroke-width="1.5" />
<ellipse cx="572.6" cy="755.6" rx="27.5" ry="33.5" stroke-width="0" transform="rotate(8 572.6 755.6)" fill="#fff" stroke="none"/>
<polyline points="596.6,770.5 594.4,774.7 591.7,778.4 588.7,781.7 585.3,784.4 581.6,786.5 577.8,788 573.8,788.8 569.8,789 565.9,788.4 562.2,787.2 558.6,785.3 555.3,782.8 552.4,779.7 549.9,776.1 547.9,772.1 546.4,767.8 545.4,763.2 545,758.5 545.1,753.7 545.9,748.9 547.2,744.3 549,739.9 551.3,735.8 554,732.2 557.1,729 560.6,726.4 564.3,724.4 568.1,723 572.1,722.3 576.1,722.3 580,723 583.7,724.3 587.2,726.3 590.4,729 593.3,732.1 595.7,735.8 597.6,739.8 599.1,744.2 599.9,748.8 600.2,753.6" stroke-width="4.8" />
<path d="M564.6,728.6 Q548.6,750.6 560.6,783.6" stroke-width="1.4" />
<ellipse cx="576.1" cy="757.3" rx="13.3" ry="18.5" stroke-width="2.2" transform="rotate(10 576.1 757.3)" />
<polyline points="575.2,775.6 574,775.6 572.8,775.5 571.6,775.2 570.4,774.7 569.4,774.1 568.3,773.4 567.3,772.5 566.4,771.5 565.6,770.4 564.9,769.2 564.2,767.8 563.7,766.4 563.3,764.9 562.9,763.4 562.7,761.8 562.6,760.1 562.6,758.4 562.8,756.7 563,755.1 563.3,753.4 563.8,751.8 564.3,750.2 565,748.7 565.7,747.2 566.6,745.9 567.5,744.6 568.5,743.4 569.5,742.4 570.6,741.5 571.8,740.7 573,740 574.2,739.5 575.4,739.2 576.6,739 577.9,738.9 579.1,739 580.3,739.3 581.4,739.7 582.5,740.3 583.6,741" stroke-width="5" />
<path d="M577.6,742.6 L578.1,752.6" stroke-width="3" />
<g transform="translate(0,508.6)">
<path d="M450.1,689 L442.5,670.3 Q437,664 429,664.9 L411.3,668.6 Q404,672 402,677.1 L396.9,692.3 L397.7,704.1 L405.3,719.3 Q412,725.5 420.5,725.2 L438,719.5" stroke-width="4.5" fill="#fff"/>
<path d="M412.1,677.9 L435.7,672.9 M420.5,682.2 L411.3,702.4 L400,701.6 M411.3,702.4 L420.5,721" stroke-width="1.3" />
<path d="M434,683 L523.6,717.6 M425.6,710.9 L515.1,747.2" stroke-width="4.5" />
<path d="M434,683 Q420,689 419.7,702.4 Q421,709 425.6,710.9" stroke-width="2.6" />
<path d="M523.6,717.6 Q531,722 530,731" stroke-width="4.5" />
<path d="M528.5,738 Q526,746 515.1,747.2" stroke-width="4.5" />
<path d="M449.232,688.882 Q439.024,702.976 440.815,717.071" stroke-width="1.5" />
<path d="M456.579,691.719 Q446.367,705.883 448.154,720.048" stroke-width="1.5" />
<path d="M463.926,694.556 Q453.71,708.79 455.493,723.024" stroke-width="1.5" />
<path d="M471.274,697.394 Q461.053,711.697 462.832,726.001" stroke-width="1.5" />
<path d="M478.621,700.231 Q468.396,714.604 470.171,728.977" stroke-width="1.5" />
<path d="M485.968,703.068 Q475.739,717.511 477.51,731.954" stroke-width="1.5" />
<path d="M493.315,705.905 Q483.082,720.418 484.849,734.931" stroke-width="1.5" />
<path d="M500.662,708.742 Q490.425,723.325 492.188,737.907" stroke-width="1.5" />
<path d="M508.01,711.58 Q497.768,726.232 499.527,740.884" stroke-width="1.5" />
<path d="M517.328,715.178 Q507.082,729.918 508.835,744.659" stroke-width="1.5" />
</g>
<ellipse cx="572.6" cy="1264.2" rx="27.5" ry="33.5" stroke-width="0" transform="rotate(8 572.6 1264.2)" fill="#fff" stroke="none"/>
<polyline points="596.6,1279.1 594.4,1283.3 591.7,1287 588.7,1290.3 585.3,1293 581.6,1295.1 577.8,1296.6 573.8,1297.4 569.8,1297.6 565.9,1297 562.2,1295.8 558.6,1293.9 555.3,1291.4 552.4,1288.3 549.9,1284.7 547.9,1280.7 546.4,1276.4 545.4,1271.8 545,1267.1 545.1,1262.3 545.9,1257.5 547.2,1252.9 549,1248.5 551.3,1244.4 554,1240.8 557.1,1237.6 560.6,1235 564.3,1233 568.1,1231.6 572.1,1230.9 576.1,1230.9 580,1231.6 583.7,1232.9 587.2,1234.9 590.4,1237.6 593.3,1240.7 595.7,1244.4 597.6,1248.4 599.1,1252.8 599.9,1257.4 600.2,1262.2" stroke-width="4.8" />
<path d="M564.6,1237.2 Q548.6,1259.2 560.6,1292.2" stroke-width="1.4" />
<ellipse cx="576.1" cy="1265.9" rx="13.3" ry="18.5" stroke-width="2.2" transform="rotate(10 576.1 1265.9)" />
<polyline points="575.2,1284.2 574,1284.2 572.8,1284.1 571.6,1283.8 570.4,1283.3 569.4,1282.7 568.3,1282 567.3,1281.1 566.4,1280.1 565.6,1279 564.9,1277.8 564.2,1276.4 563.7,1275 563.3,1273.5 562.9,1272 562.7,1270.4 562.6,1268.7 562.6,1267 562.8,1265.3 563,1263.7 563.3,1262 563.8,1260.4 564.3,1258.8 565,1257.3 565.7,1255.8 566.6,1254.5 567.5,1253.2 568.5,1252 569.5,1251 570.6,1250.1 571.8,1249.3 573,1248.6 574.2,1248.1 575.4,1247.8 576.6,1247.6 577.9,1247.5 579.1,1247.6 580.3,1247.9 581.4,1248.3 582.5,1248.9 583.6,1249.6" stroke-width="5" />
<path d="M577.6,1251.2 L578.1,1261.2" stroke-width="3" />
<path d="M1766,1219.6 L1686.7,1190 Q1676,1187 1673,1197 L1672.3,1210 Q1672,1217 1678.2,1218.8 L1756.8,1250.9" stroke-width="4.5" fill="#fff"/>
<path d="M1683.6,1190 Q1676.6,1205.09 1681.6,1220.19" stroke-width="1.5" />
<path d="M1691.2,1190.93 Q1684.2,1207.11 1689.2,1223.29" stroke-width="1.5" />
<path d="M1698.8,1193.77 Q1691.8,1210.08 1696.8,1226.4" stroke-width="1.5" />
<path d="M1706.4,1196.61 Q1699.4,1213.05 1704.4,1229.5" stroke-width="1.5" />
<path d="M1714,1199.44 Q1707,1216.02 1712,1232.6" stroke-width="1.5" />
<path d="M1721.6,1202.28 Q1714.6,1218.99 1719.6,1235.71" stroke-width="1.5" />
<path d="M1729.2,1205.12 Q1722.2,1221.96 1727.2,1238.81" stroke-width="1.5" />
<path d="M1736.8,1207.95 Q1729.8,1224.93 1734.8,1241.92" stroke-width="1.5" />
<path d="M1766,1219.6 L1786.4,1214.6 Q1798,1214 1803.2,1222.2 Q1810,1232 1808.5,1246 Q1805,1262 1796.5,1269.5 L1777.9,1274.5 Q1768,1274 1762.7,1267.8 L1756.8,1250.9 Z" stroke-width="4.5" fill="#fff"/>
<path d="M1766,1219.6 L1756.8,1250.9" stroke-width="4.5" />
<path d="M1766,1220 L1777.9,1226.4 L1794.8,1223 M1777.9,1226.4 L1767.8,1252.6 L1757.5,1251 M1767.8,1252.6 L1777.9,1271.2" stroke-width="1.3" />
<g transform="translate(-1,506.5)">
<path d="M1766,1219.6 L1686.7,1190 Q1676,1187 1673,1197 L1672.3,1210 Q1672,1217 1678.2,1218.8 L1756.8,1250.9" stroke-width="4.5" fill="#fff"/>
<path d="M1683.6,1190 Q1676.6,1205.09 1681.6,1220.19" stroke-width="1.5" />
<path d="M1691.2,1190.93 Q1684.2,1207.11 1689.2,1223.29" stroke-width="1.5" />
<path d="M1698.8,1193.77 Q1691.8,1210.08 1696.8,1226.4" stroke-width="1.5" />
<path d="M1706.4,1196.61 Q1699.4,1213.05 1704.4,1229.5" stroke-width="1.5" />
<path d="M1714,1199.44 Q1707,1216.02 1712,1232.6" stroke-width="1.5" />
<path d="M1721.6,1202.28 Q1714.6,1218.99 1719.6,1235.71" stroke-width="1.5" />
<path d="M1729.2,1205.12 Q1722.2,1221.96 1727.2,1238.81" stroke-width="1.5" />
<path d="M1736.8,1207.95 Q1729.8,1224.93 1734.8,1241.92" stroke-width="1.5" />
<path d="M1766,1219.6 L1786.4,1214.6 Q1798,1214 1803.2,1222.2 Q1810,1232 1808.5,1246 Q1805,1262 1796.5,1269.5 L1777.9,1274.5 Q1768,1274 1762.7,1267.8 L1756.8,1250.9 Z" stroke-width="4.5" fill="#fff"/>
<path d="M1766,1219.6 L1756.8,1250.9" stroke-width="4.5" />
<path d="M1766,1220 L1777.9,1226.4 L1794.8,1223 M1777.9,1226.4 L1767.8,1252.6 L1757.5,1251 M1767.8,1252.6 L1777.9,1271.2" stroke-width="1.3" />
</g>
<ellipse cx="1589.6" cy="1166.4" rx="15.2" ry="20.3" stroke-width="2" transform="rotate(14 1589.6 1166.4)" />
<polyline points="1592.7,1185.3 1591.4,1185.8 1590,1186.2 1588.7,1186.4 1587.3,1186.4 1586,1186.3 1584.7,1186.1 1583.4,1185.7 1582.2,1185.2 1581,1184.5 1579.9,1183.7 1578.9,1182.7 1578,1181.6 1577.1,1180.4 1576.4,1179.1 1575.7,1177.7 1575.1,1176.2 1574.7,1174.7 1574.4,1173.1 1574.2,1171.4 1574.1,1169.7 1574.1,1167.9 1574.2,1166.2 1574.5,1164.5 1574.9,1162.7 1575.3,1161 1575.9,1159.4 1576.6,1157.8 1577.4,1156.2 1578.3,1154.7 1579.3,1153.4 1580.3,1152.1 1581.5,1150.9 1582.6,1149.9 1583.9,1148.9 1585.2,1148.2 1586.5,1147.5 1587.8,1147 1589.2,1146.6 1590.5,1146.4 1591.9,1146.4" stroke-width="4.5" />
<ellipse cx="1586.2" cy="1673.8" rx="15.2" ry="20.3" stroke-width="2" transform="rotate(14 1586.2 1673.8)" />
<polyline points="1589.3,1692.7 1588,1693.2 1586.6,1693.6 1585.3,1693.8 1583.9,1693.8 1582.6,1693.7 1581.3,1693.5 1580,1693.1 1578.8,1692.6 1577.6,1691.9 1576.5,1691.1 1575.5,1690.1 1574.6,1689 1573.7,1687.8 1573,1686.5 1572.3,1685.1 1571.7,1683.6 1571.3,1682.1 1571,1680.5 1570.8,1678.8 1570.7,1677.1 1570.7,1675.3 1570.8,1673.6 1571.1,1671.9 1571.5,1670.1 1571.9,1668.4 1572.5,1666.8 1573.2,1665.2 1574,1663.6 1574.9,1662.1 1575.9,1660.8 1576.9,1659.5 1578.1,1658.3 1579.2,1657.3 1580.5,1656.3 1581.8,1655.6 1583.1,1654.9 1584.4,1654.4 1585.8,1654 1587.1,1653.8 1588.5,1653.8" stroke-width="4.5" />
<ellipse cx="1639.4" cy="1188.4" rx="27.5" ry="33.5" stroke-width="0" transform="rotate(8 1639.4 1188.4)" fill="#fff" stroke="none"/>
<polyline points="1663.4,1203.3 1661.2,1207.5 1658.5,1211.2 1655.5,1214.5 1652.1,1217.2 1648.4,1219.3 1644.6,1220.8 1640.6,1221.6 1636.6,1221.8 1632.7,1221.2 1629,1220 1625.4,1218.1 1622.1,1215.6 1619.2,1212.5 1616.7,1208.9 1614.7,1204.9 1613.2,1200.6 1612.2,1196 1611.8,1191.3 1611.9,1186.5 1612.7,1181.7 1614,1177.1 1615.8,1172.7 1618.1,1168.6 1620.8,1165 1623.9,1161.8 1627.4,1159.2 1631.1,1157.2 1634.9,1155.8 1638.9,1155.1 1642.9,1155.1 1646.8,1155.8 1650.5,1157.1 1654,1159.1 1657.2,1161.8 1660.1,1164.9 1662.5,1168.6 1664.4,1172.6 1665.9,1177 1666.7,1181.6 1667,1186.4" stroke-width="4.8" />
<path d="M1631.4,1161.4 Q1615.4,1183.4 1627.4,1216.4" stroke-width="1.4" />
<ellipse cx="1642.9" cy="1190.1" rx="13.3" ry="18.5" stroke-width="2.2" transform="rotate(10 1642.9 1190.1)" />
<polyline points="1642,1208.4 1640.8,1208.4 1639.6,1208.3 1638.4,1208 1637.2,1207.5 1636.2,1206.9 1635.1,1206.2 1634.1,1205.3 1633.2,1204.3 1632.4,1203.2 1631.7,1202 1631,1200.6 1630.5,1199.2 1630.1,1197.7 1629.7,1196.2 1629.5,1194.6 1629.4,1192.9 1629.4,1191.2 1629.6,1189.5 1629.8,1187.9 1630.1,1186.2 1630.6,1184.6 1631.1,1183 1631.8,1181.5 1632.5,1180 1633.4,1178.7 1634.3,1177.4 1635.3,1176.2 1636.3,1175.2 1637.4,1174.3 1638.6,1173.5 1639.8,1172.8 1641,1172.3 1642.2,1172 1643.4,1171.8 1644.7,1171.7 1645.9,1171.8 1647.1,1172.1 1648.2,1172.5 1649.3,1173.1 1650.4,1173.8" stroke-width="5" />
<path d="M1644.4,1175.4 L1644.9,1185.4" stroke-width="3" />
<ellipse cx="1638.5" cy="1694.9" rx="27.5" ry="33.5" stroke-width="0" transform="rotate(8 1638.5 1694.9)" fill="#fff" stroke="none"/>
<polyline points="1662.5,1709.8 1660.3,1714 1657.6,1717.7 1654.6,1721 1651.2,1723.7 1647.5,1725.8 1643.7,1727.3 1639.7,1728.1 1635.7,1728.3 1631.8,1727.7 1628.1,1726.5 1624.5,1724.6 1621.2,1722.1 1618.3,1719 1615.8,1715.4 1613.8,1711.4 1612.3,1707.1 1611.3,1702.5 1610.9,1697.8 1611,1693 1611.8,1688.2 1613.1,1683.6 1614.9,1679.2 1617.2,1675.1 1619.9,1671.5 1623,1668.3 1626.5,1665.7 1630.2,1663.7 1634,1662.3 1638,1661.6 1642,1661.6 1645.9,1662.3 1649.6,1663.6 1653.1,1665.6 1656.3,1668.3 1659.2,1671.4 1661.6,1675.1 1663.5,1679.1 1665,1683.5 1665.8,1688.1 1666.1,1692.9" stroke-width="4.8" />
<path d="M1630.5,1667.9 Q1614.5,1689.9 1626.5,1722.9" stroke-width="1.4" />
<ellipse cx="1642" cy="1696.6" rx="13.3" ry="18.5" stroke-width="2.2" transform="rotate(10 1642 1696.6)" />
<polyline points="1641.1,1714.9 1639.9,1714.9 1638.7,1714.8 1637.5,1714.5 1636.3,1714 1635.3,1713.4 1634.2,1712.7 1633.2,1711.8 1632.3,1710.8 1631.5,1709.7 1630.8,1708.5 1630.1,1707.1 1629.6,1705.7 1629.2,1704.2 1628.8,1702.7 1628.6,1701.1 1628.5,1699.4 1628.5,1697.7 1628.7,1696 1628.9,1694.4 1629.2,1692.7 1629.7,1691.1 1630.2,1689.5 1630.9,1688 1631.6,1686.5 1632.5,1685.2 1633.4,1683.9 1634.4,1682.7 1635.4,1681.7 1636.5,1680.8 1637.7,1680 1638.9,1679.3 1640.1,1678.8 1641.3,1678.5 1642.5,1678.3 1643.8,1678.2 1645,1678.3 1646.2,1678.6 1647.3,1679 1648.4,1679.6 1649.5,1680.3" stroke-width="5" />
<path d="M1643.5,1681.9 L1644,1691.9" stroke-width="3" />
<path d="M518,733.5 L622,775" stroke-width="2" stroke-dasharray="23 9 3 9"/>
<path d="M518,1242.1 L622,1283.6" stroke-width="2" stroke-dasharray="23 9 3 9"/>
<path d="M853.5,868 L924.5,896" stroke-width="2" stroke-dasharray="23 9 3 9"/>
<path d="M986,923 L1017,935" stroke-width="2" stroke-dasharray="23 9 3 9"/>
<path d="M782.5,937.5 L817.5,950 L510.4,1077 L557.7,1095" stroke-width="2" stroke-dasharray="23 9 3 9"/>
<path d="M619,1121 L644,1131" stroke-width="2" />
<path d="M850,1377.5 L955,1417.5" stroke-width="2" stroke-dasharray="23 9 3 9"/>
<path d="M1193.4,1265.6 L1217,1274 L1350,1220" stroke-width="2" stroke-dasharray="23 9 3 9"/>
<path d="M1326,1570 L1361,1583" stroke-width="2" stroke-dasharray="23 9 3 9"/>
<path d="M1305,1656.4 L1361,1677" stroke-width="2" stroke-dasharray="23 9 3 9"/>
<path d="M1589.6,1166.4 L1676,1203" stroke-width="2" stroke-dasharray="23 9 3 9"/>
<path d="M1586.2,1673.8 L1675,1710" stroke-width="2" stroke-dasharray="23 9 3 9"/>
<polyline points="684.6,342.4 704.3,400" stroke-width="1.8" />
<polyline points="855.6,619.7 910,552.6" stroke-width="1.8" />
<polyline points="434,666.1 463.6,607.8" stroke-width="1.8" />
<polyline points="576.8,721.9 584.4,654.3" stroke-width="1.8" />
<polyline points="985.3,890.9 1019.9,828.4" stroke-width="1.8" />
<polyline points="1123.3,938.8 1149.2,881.1" stroke-width="1.8" />
<polyline points="1483.6,853 1506.6,784" stroke-width="1.8" />
<polyline points="535.7,1156.6 574.6,1124.5" stroke-width="1.8" />
<polyline points="610,1187 660,1154" stroke-width="1.8" />
<polyline points="440.8,1288.6 463.6,1238.8" stroke-width="1.8" />
<polyline points="541.3,1331 556.5,1294.6" stroke-width="1.8" />
<polyline points="1136.8,1326.4 1144.4,1307" stroke-width="1.8" />
<polyline points="1655.4,1158 1692.6,1100.5" stroke-width="1.8" />
<polyline points="1739,1207.8 1774.5,1136" stroke-width="1.8" />
<polyline points="1090,1582.5 1112.5,1515" stroke-width="1.8" />
<polyline points="1652.9,1664.5 1689.2,1607.9" stroke-width="1.8" />
<polyline points="1736.5,1714.3 1771.1,1642.5" stroke-width="1.8" />
<polyline points="1222.7,1700.4 1240.7,1654" stroke-width="1.8" />
<g stroke="none">
<path d="M1047,1213 Q1050,1208 1060,1206 L1062,1203 L1078,1199 L1078,1186 L1092,1190 L1118,1192 L1121,1175 L1145,1187 L1145,1210 L1174,1223 Q1177,1228 1174,1233 L1165,1231 L1165,1247 Q1178,1252 1182,1270 Q1184,1292 1170,1303 L1150,1300 L1066,1288 L1062,1283 L1062,1244 L1060,1225 L1050,1222 Z" fill="#e3e3e3"/>
<path d="M1075,1206 L1087,1204 L1093,1240 L1074,1240 Q1073,1220 1075,1206 Z M1090,1205 L1105,1208 L1102,1242 L1096,1242 Z M1108,1206 L1120,1204 L1118,1244 L1106,1244 Z M1125,1213 L1160,1222 L1160,1245 L1123,1243 Z" fill="#d5d5d5"/>
<path d="M1124,1180 L1124,1203 M1128,1182 L1128,1204 M1132,1184 L1132,1205 M1136,1185 L1136,1206 M1140,1187 L1140,1208 M1081,1190 L1090,1196 M1062,1242 L1100,1244 M1100,1244 L1165,1246 M1068,1286 L1148,1297 M1150,1263 L1140,1300" stroke="#f4f4f4" stroke-width="1.2" fill="none"/>
<circle cx="1165" cy="1280" r="16" fill="#dadada"/>
<rect x="-3.8" y="-36.5" width="7.6" height="9" transform="translate(982.2,1241) rotate(0)" fill="#a9a9a9"/><rect x="-3.8" y="-36.5" width="7.6" height="9" transform="translate(982.2,1241) rotate(22.5)" fill="#a9a9a9"/><rect x="-3.8" y="-36.5" width="7.6" height="9" transform="translate(982.2,1241) rotate(45)" fill="#a9a9a9"/><rect x="-3.8" y="-36.5" width="7.6" height="9" transform="translate(982.2,1241) rotate(67.5)" fill="#a9a9a9"/><rect x="-3.8" y="-36.5" width="7.6" height="9" transform="translate(982.2,1241) rotate(90)" fill="#a9a9a9"/><rect x="-3.8" y="-36.5" width="7.6" height="9" transform="translate(982.2,1241) rotate(112.5)" fill="#a9a9a9"/><rect x="-3.8" y="-36.5" width="7.6" height="9" transform="translate(982.2,1241) rotate(135)" fill="#a9a9a9"/><rect x="-3.8" y="-36.5" width="7.6" height="9" transform="translate(982.2,1241) rotate(157.5)" fill="#a9a9a9"/><rect x="-3.8" y="-36.5" width="7.6" height="9" transform="translate(982.2,1241) rotate(180)" fill="#a9a9a9"/><rect x="-3.8" y="-36.5" width="7.6" height="9" transform="translate(982.2,1241) rotate(202.5)" fill="#a9a9a9"/><rect x="-3.8" y="-36.5" width="7.6" height="9" transform="translate(982.2,1241) rotate(225)" fill="#a9a9a9"/><rect x="-3.8" y="-36.5" width="7.6" height="9" transform="translate(982.2,1241) rotate(247.5)" fill="#a9a9a9"/><rect x="-3.8" y="-36.5" width="7.6" height="9" transform="translate(982.2,1241) rotate(270)" fill="#a9a9a9"/><rect x="-3.8" y="-36.5" width="7.6" height="9" transform="translate(982.2,1241) rotate(292.5)" fill="#a9a9a9"/><rect x="-3.8" y="-36.5" width="7.6" height="9" transform="translate(982.2,1241) rotate(315)" fill="#a9a9a9"/><rect x="-3.8" y="-36.5" width="7.6" height="9" transform="translate(982.2,1241) rotate(337.5)" fill="#a9a9a9"/>
<circle cx="982.2" cy="1241" r="26" fill="none" stroke="#a9a9a9" stroke-width="8.5"/>
<path d="M950,1262 Q985,1255 1020,1256 L1000,1286 L974,1286 Z" fill="#a2a2a2"/>
<path d="M949,1257 Q1000,1246 1058,1246.5" stroke="#b4b4b4" stroke-width="4.5" fill="none"/>
<path d="M950,1262.5 Q995,1252.5 1040,1251.5" stroke="#fff" stroke-width="1.5" fill="none"/>
<path d="M951,1266 Q990,1257 1025,1256" stroke="#c2c2c2" stroke-width="2.5" fill="none"/>
<path d="M953,1270 Q985,1262 1012,1261" stroke="#fff" stroke-width="1.3" fill="none"/>
</g>
<g opacity="0.99" style="will-change:transform">
<text x="1073.5" y="1285" font-family="Liberation Serif" font-weight="bold" font-size="32.5" text-anchor="middle" fill="#909090" stroke="#fff" stroke-width="2.5" paint-order="stroke">АГРОСНАБ</text>
<text x="1080" y="1253.8" font-family="Liberation Sans" font-size="13.5" text-anchor="middle" fill="#999" stroke="none" letter-spacing="0.5">ООО</text>
</g>
<ellipse cx="1032" cy="1314.5" rx="7" ry="6" stroke-width="4.4"/>
<path d="M1002.5,1173.5 Q1015,1164 1028.7,1173.5 Z" fill="#000" stroke="none"/>
<g fill="#000" stroke="none" font-family="Liberation Sans" font-weight="bold" opacity="0.999">
<text transform="translate(675 329) scale(0.92 1)" font-size="42.8" text-anchor="middle">1</text>
<text transform="translate(918 543) scale(0.92 1)" font-size="42.8" text-anchor="middle">3</text>
<text transform="translate(469.5 597.7) scale(0.92 1)" font-size="42.8" text-anchor="middle">6</text>
<text transform="translate(585.7 646.7) scale(0.92 1)" font-size="42.8" text-anchor="middle">7</text>
<text transform="translate(1025.4 816.6) scale(0.92 1)" font-size="42.8" text-anchor="middle">5</text>
<text transform="translate(1153.5 867.9) scale(0.92 1)" font-size="42.8" text-anchor="middle">4</text>
<text transform="translate(1508.5 773.5) scale(0.92 1)" font-size="42.8" text-anchor="middle">2</text>
<text transform="translate(517.6 1183.6) scale(0.92 1)" font-size="42.8" text-anchor="middle">9</text>
<text transform="translate(594.5 1208) scale(0.92 1)" font-size="42.8" text-anchor="middle">8</text>
<text transform="translate(437.4 1324) scale(0.92 1)" font-size="42.8" text-anchor="middle">6</text>
<text transform="translate(537.5 1367.2) scale(0.92 1)" font-size="42.8" text-anchor="middle">7</text>
<text transform="translate(1130 1365) scale(0.92 1)" font-size="42.8" text-anchor="middle">9</text>
<text transform="translate(1701.5 1090.4) scale(0.92 1)" font-size="42.8" text-anchor="middle">7</text>
<text transform="translate(1781.7 1126.7) scale(0.92 1)" font-size="42.8" text-anchor="middle">6</text>
<text transform="translate(1083.5 1622) scale(0.92 1)" font-size="42.8" text-anchor="middle">10</text>
<text transform="translate(1700 1595) scale(0.92 1)" font-size="42.8" text-anchor="middle">7</text>
<text transform="translate(1777.5 1630.7) scale(0.92 1)" font-size="42.8" text-anchor="middle">6</text>
<text transform="translate(1221.2 1739.4) scale(0.92 1)" font-size="42.8" text-anchor="middle">11</text>
<text transform="translate(27 2451.5) scale(0.95 1)" font-size="35">AL155125</text>
</g></svg></body></html>
